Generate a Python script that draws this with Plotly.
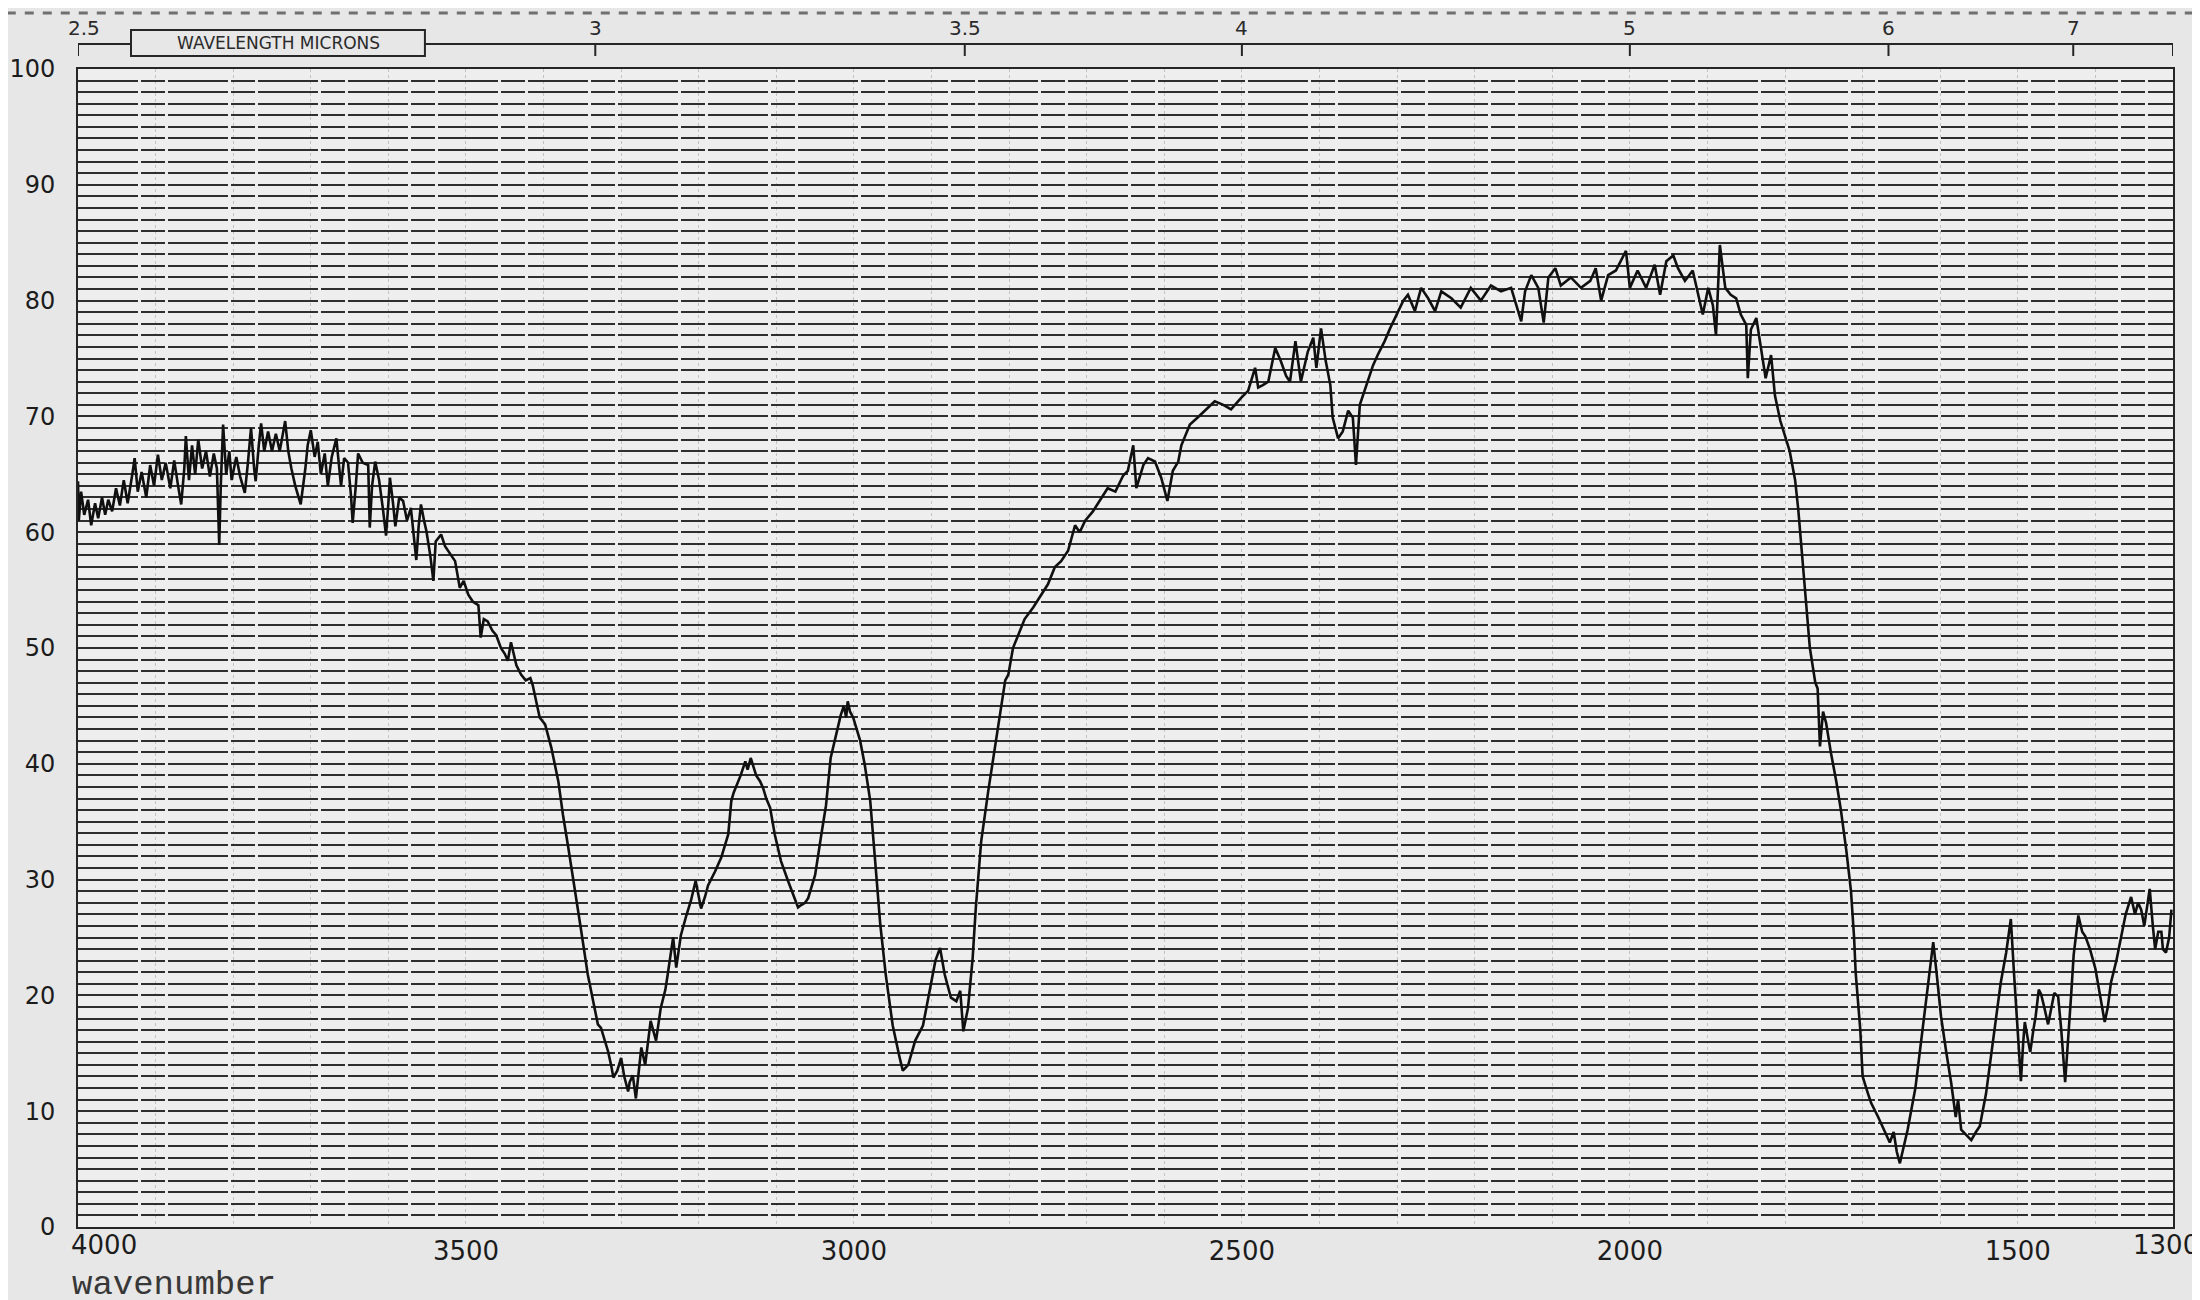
import plotly.graph_objects as go

# ---------------- data ----------------
# (wavenumber cm-1, transmittance %)
REGION_OH_BAND = [
    (4000, 64.4), (3999, 61.0), (3996, 63.5), (3992, 61.5), (3987, 62.8), (3983, 60.6), (3978, 62.5),
    (3974, 61.2), (3969, 63.0), (3965, 61.5), (3961, 62.8), (3956, 61.8), (3951, 63.8), (3946, 62.3),
    (3941, 64.5), (3936, 62.5), (3930, 65.0), (3927, 66.4), (3923, 63.5), (3918, 65.2), (3912, 63.0),
    (3907, 65.8), (3902, 64.0), (3897, 66.7), (3892, 64.5), (3887, 66.0), (3881, 63.8), (3876, 66.2),
    (3871, 64.0), (3867, 62.4), (3863, 65.5), (3861, 68.3), (3857, 64.5), (3853, 67.5), (3849, 65.0),
    (3845, 68.0), (3840, 65.5), (3835, 67.0), (3830, 64.8), (3825, 66.8), (3821, 65.5), (3818, 58.9),
    (3816, 64.0), (3813, 69.3), (3809, 65.0), (3805, 67.0), (3802, 64.5), (3796, 66.5), (3791, 64.8),
    (3785, 63.4), (3781, 66.0), (3777, 69.0), (3773, 65.5), (3771, 64.4), (3767, 67.5), (3764, 69.4),
    (3760, 67.0), (3755, 68.7), (3750, 67.0), (3745, 68.5), (3740, 67.0), (3733, 69.6), (3729, 67.0),
    (3725, 65.5), (3720, 64.0), (3716, 63.0), (3713, 62.4), (3707, 65.5), (3704, 67.5), (3700, 68.8),
    (3695, 66.5), (3691, 67.8), (3687, 65.0), (3682, 66.8), (3678, 64.0), (3673, 66.5), (3667, 68.1),
    (3664, 66.0), (3661, 64.0), (3657, 66.4), (3652, 66.0), (3648, 63.0), (3646, 60.8), (3642, 64.0),
    (3639, 66.8), (3633, 66.0), (3626, 65.8), (3624, 60.4), (3621, 64.0), (3617, 66.1), (3612, 64.5),
    (3607, 62.0), (3603, 59.7), (3600, 62.5), (3598, 64.7), (3594, 62.5), (3591, 60.5), (3586, 63.0),
    (3581, 62.7), (3576, 61.0), (3571, 62.1), (3567, 59.5), (3564, 57.6), (3561, 60.5), (3558, 62.4),
    (3554, 61.0), (3551, 60.1), (3546, 58.0), (3542, 55.8), (3539, 59.2), (3532, 59.8), (3527, 58.8),
    (3523, 58.4), (3518, 57.8), (3514, 57.5), (3508, 55.2), (3503, 55.8), (3497, 54.6), (3491, 54.0),
    (3484, 53.7), (3481, 50.9), (3477, 52.5), (3472, 52.3), (3466, 51.5), (3461, 51.1), (3455, 50.0),
    (3450, 49.5), (3446, 48.9), (3442, 50.5), (3435, 48.5), (3429, 47.7), (3423, 47.2), (3417, 47.4),
    (3414, 46.8), (3410, 45.5), (3405, 44.0), (3398, 43.4), (3390, 41.4),
]

REGION_CH_BANDS = [
    (3381, 38.5), (3375, 35.6), (3368, 32.7), (3359, 29.0), (3352, 25.8), (3343, 21.8), (3334, 18.9),
    (3330, 17.5), (3326, 17.2), (3321, 16.0), (3317, 15.2), (3313, 14.0), (3310, 12.9), (3305, 13.5),
    (3300, 14.6), (3296, 13.0), (3291, 11.7), (3289, 12.5), (3285, 13.1), (3281, 11.1), (3277, 13.5),
    (3274, 15.5), (3269, 14.0), (3265, 16.5), (3262, 17.8), (3258, 16.8), (3255, 16.1), (3249, 18.9),
    (3243, 20.5), (3240, 21.8), (3233, 25.0), (3229, 22.4), (3223, 25.2), (3216, 26.9), (3210, 28.2),
    (3204, 29.9), (3197, 27.5), (3192, 28.5), (3188, 29.5), (3179, 30.7), (3171, 31.9), (3162, 33.9),
    (3158, 36.8), (3155, 37.5), (3149, 38.5), (3146, 39.0), (3140, 40.2), (3137, 39.5), (3133, 40.5),
    (3126, 39.0), (3121, 38.5), (3117, 37.9), (3113, 37.0), (3108, 36.2), (3102, 33.9), (3094, 31.6),
    (3085, 29.9), (3076, 28.4), (3072, 27.6), (3068, 27.8), (3063, 28.0), (3059, 28.4), (3050, 30.4),
    (3042, 33.9), (3036, 36.4), (3030, 40.5), (3023, 42.5), (3017, 44.2), (3013, 45.0), (3010, 44.0),
    (3008, 45.4), (3005, 44.5), (3001, 44.0), (2992, 42.0), (2986, 39.9), (2979, 36.8), (2973, 31.9),
    (2966, 26.1), (2959, 21.8), (2950, 17.4), (2941, 14.6), (2937, 13.5), (2930, 14.0), (2921, 16.1),
    (2911, 17.4), (2902, 20.4), (2895, 23.0), (2889, 24.1), (2883, 21.8), (2875, 19.8), (2868, 19.5),
    (2863, 20.4), (2859, 16.9), (2853, 18.9), (2847, 23.2), (2843, 27.5), (2836, 33.3), (2827, 37.6),
    (2818, 41.4), (2812, 44.0), (2805, 47.2), (2801, 47.7),
]

REGION_RISE = [
    (2795, 50.0), (2789, 51.0), (2780, 52.5), (2769, 53.5), (2760, 54.5), (2750, 55.5), (2741, 57.0),
    (2733, 57.5), (2724, 58.4), (2715, 60.6), (2709, 60.0), (2702, 61.0), (2692, 61.8), (2683, 62.7),
    (2673, 63.8), (2663, 63.5), (2653, 64.9), (2647, 65.3), (2640, 67.5), (2636, 63.8), (2627, 65.8),
    (2621, 66.4), (2612, 66.1), (2604, 64.7), (2596, 62.7), (2589, 65.3), (2582, 66.1), (2578, 67.5),
    (2567, 69.3), (2557, 69.9), (2544, 70.7), (2535, 71.3), (2524, 71.0), (2514, 70.6), (2501, 71.6),
    (2492, 72.2), (2483, 74.2), (2479, 72.5), (2473, 72.7), (2466, 73.0), (2457, 75.9), (2450, 74.8),
    (2443, 73.5), (2438, 73.0), (2431, 76.5), (2424, 73.0), (2415, 75.6), (2408, 76.8), (2404, 74.2),
    (2398, 77.6), (2392, 74.8), (2386, 72.7), (2383, 69.9), (2376, 68.1), (2370, 68.7), (2363, 70.5),
    (2357, 69.9), (2353, 65.8), (2348, 71.0), (2340, 72.7), (2331, 74.4), (2325, 75.3), (2316, 76.5),
    (2309, 77.6), (2301, 78.8), (2292, 80.0), (2286, 80.5), (2279, 79.4),
]

REGION_PLATEAU = [
    (2277, 79.1), (2269, 81.1), (2260, 80.2), (2251, 79.1), (2243, 80.8), (2230, 80.2), (2218, 79.4),
    (2205, 81.1), (2192, 80.0), (2179, 81.3), (2166, 80.8), (2153, 81.1), (2140, 78.2), (2135, 80.8),
    (2127, 82.2), (2118, 81.1), (2111, 78.1), (2105, 82.0), (2096, 82.8), (2089, 81.3), (2076, 82.0),
    (2063, 81.1), (2051, 81.7), (2044, 82.8), (2037, 80.0), (2028, 82.2), (2018, 82.6), (2005, 84.3),
    (2000, 81.1), (1990, 82.6), (1979, 81.1), (1968, 83.1), (1961, 80.5), (1953, 83.4), (1944, 83.9),
    (1938, 82.8), (1929, 81.7), (1919, 82.6), (1912, 80.5), (1906, 78.8), (1899, 81.1), (1893, 79.6),
    (1889, 77.0), (1884, 84.8), (1877, 81.1), (1870, 80.5), (1863, 80.2), (1857, 78.8), (1850, 77.9),
    (1848, 73.3), (1844, 77.5), (1837, 78.5), (1831, 75.9), (1825, 73.3), (1818, 75.3), (1813, 71.8),
    (1806, 69.6), (1800, 68.4),
]

REGION_FINGERPRINT = [
    (1794, 67.0), (1787, 64.5), (1783, 62.0), (1778, 58.0), (1773, 54.0), (1768, 50.0), (1761, 47.0),
    (1758, 46.5), (1755, 41.5), (1751, 44.5), (1747, 43.5), (1741, 41.0), (1734, 38.5), (1728, 36.0),
    (1721, 32.5), (1715, 29.0), (1711, 25.0), (1709, 22.0), (1703, 17.0), (1700, 13.0), (1693, 11.5),
    (1689, 10.7), (1680, 9.5), (1671, 8.1), (1665, 7.3), (1660, 8.2), (1656, 6.5), (1652, 5.5),
    (1647, 7.0), (1642, 8.4), (1632, 12.0), (1625, 15.9), (1617, 20.5), (1609, 24.6), (1604, 21.5),
    (1599, 18.2), (1592, 15.0), (1586, 12.5), (1580, 9.5), (1577, 11.0), (1573, 8.4), (1567, 8.0),
    (1560, 7.5), (1554, 8.2), (1549, 8.7), (1541, 11.5), (1535, 14.5), (1528, 18.0), (1522, 21.1),
    (1515, 23.7), (1509, 26.6), (1505, 22.0), (1502, 18.8), (1498, 15.0), (1496, 12.6), (1493, 16.0),
    (1491, 17.7), (1487, 16.2), (1484, 15.1), (1480, 17.0), (1477, 18.2), (1473, 20.5), (1470, 20.1),
    (1466, 19.0), (1461, 17.5), (1458, 18.5), (1453, 20.2), (1448, 19.9), (1444, 17.0), (1439, 12.5),
    (1435, 16.0), (1431, 20.3), (1428, 23.5), (1422, 26.9), (1417, 25.5), (1413, 25.1), (1407, 24.0),
    (1400, 22.3), (1394, 20.0), (1388, 17.7), (1384, 19.0), (1380, 21.1), (1373, 23.0), (1367, 25.1),
    (1361, 27.0), (1354, 28.5), (1349, 27.0), (1345, 28.0), (1341, 27.4), (1337, 26.0), (1333, 28.0),
    (1330, 29.2), (1326, 26.0), (1323, 24.0), (1319, 25.5), (1315, 25.5), (1313, 24.0), (1309, 23.7),
    (1305, 25.0), (1302, 27.4),
]

X_TICK_VALUES = [3500, 3000, 2500, 2000, 1500]
X_TICK_LABELS = ["3500", "3000", "2500", "2000", "1500"]
Y_TICK_VALUES = [0, 10, 20, 30, 40, 50, 60, 70, 80, 90, 100]
WAVELENGTH_TICKS = [2.5, 3, 3.5, 4, 5, 6, 7]
WAVELENGTH_LABELS = ["2.5", "3", "3.5", "4", "5", "6", "7"]

# ---------------- figure ----------------
points = REGION_OH_BAND + REGION_CH_BANDS + REGION_RISE + REGION_PLATEAU + REGION_FINGERPRINT
wn = [p[0] for p in points]
tr = [p[1] for p in points]

PAPER = "#e7e7e7"
INK = "#1c1c1c"

fig = go.Figure()
fig.add_trace(go.Scatter(x=wn, y=tr, mode="lines",
                         line=dict(color="#101010", width=2.6),
                         hoverinfo="skip", showlegend=False))

grid_x = list(range(4000, 1299, -100))
grid_x_text = [X_TICK_LABELS[X_TICK_VALUES.index(v)] if v in X_TICK_VALUES else "" for v in grid_x]
grid_y = list(range(0, 101))
grid_y_text = [str(v) if v in Y_TICK_VALUES else "" for v in grid_y]

fig.update_layout(
    width=2200, height=1300,
    margin=dict(l=70, r=35, t=61, b=81, pad=0),
    paper_bgcolor=PAPER, plot_bgcolor="#eeeeee",
    showlegend=False,
    font=dict(family="DejaVu Sans", color=INK),
    xaxis=dict(range=[4000, 1300], tickmode="array", tickvals=grid_x, ticktext=grid_x_text,
               showgrid=True, gridcolor="#c2c2c2", gridwidth=1, griddash="dot",
               showline=True, linecolor="#262626", linewidth=2, mirror=True,
               ticks="", tickfont=dict(size=26, color=INK), zeroline=False, automargin=False),
    yaxis=dict(range=[0, 100], tickmode="array", tickvals=grid_y, ticktext=grid_y_text,
               showgrid=True, gridcolor="#2e2e2e", gridwidth=2, griddash="60px,3px,24px,3px",
               showline=True, linecolor="#262626", linewidth=2, mirror=True,
               ticks="outside", ticklen=16, tickcolor="rgba(0,0,0,0)",
               tickfont=dict(size=24, color=INK), zeroline=False, automargin=False),
)

# top wavelength scale (drawn with shapes in data-x / paper-y coordinates)
TOP_LINE_Y = 1.0216
shapes = [
    dict(type="line", xref="paper", yref="paper", x0=-0.034, x1=1.017, y0=1.0484, y1=1.0484,
         line=dict(color="#707070", width=3, dash="dash")),
    dict(type="line", xref="x", yref="paper", x0=4000, x1=1300, y0=TOP_LINE_Y, y1=TOP_LINE_Y,
         line=dict(color="#262626", width=2)),
    dict(type="line", xref="x", yref="paper", x0=1300, x1=1300, y0=TOP_LINE_Y, y1=1.0112,
         line=dict(color="#262626", width=2)),
]
annotations = []
for lam, lab in zip(WAVELENGTH_TICKS, WAVELENGTH_LABELS):
    xv = 10000.0 / lam
    shapes.append(dict(type="line", xref="x", yref="paper", x0=xv, x1=xv, y0=TOP_LINE_Y, y1=1.0112,
                       line=dict(color="#262626", width=2)))
    annotations.append(dict(x=xv, y=1.0354, xref="x", yref="paper", text=lab, showarrow=False,
                            xanchor="center", yanchor="middle", xshift=6 if lam == 2.5 else 0,
                            font=dict(size=20, color="#2a2a2a")))
shapes.append(dict(type="rect", xref="paper", yref="paper", x0=0.0253, x1=0.1656, y0=1.0112, y1=1.0337,
                   fillcolor=PAPER, line=dict(color="#262626", width=2)))
annotations.append(dict(x=0.0955, y=1.0225, xref="paper", yref="paper", text="WAVELENGTH MICRONS",
                        showarrow=False, xanchor="center", yanchor="middle",
                        font=dict(size=17, color="#2a2a2a")))
annotations.append(dict(x=4000, y=0, xref="x", yref="paper", text="4000", showarrow=False,
                        xanchor="left", yanchor="top", xshift=-8, yshift=-2, borderpad=0,
                        font=dict(size=26, color=INK)))
annotations.append(dict(x=1300, y=0, xref="x", yref="paper", text="1300", showarrow=False,
                        xanchor="right", yanchor="top", xshift=27, yshift=-2, borderpad=0,
                        font=dict(size=26, color=INK)))
annotations.append(dict(x=-0.0033, y=-0.0675, xref="paper", yref="paper", text="wavenumber",
                        showarrow=False, xanchor="left", yanchor="bottom", borderpad=0,
                        font=dict(family="Liberation Mono", size=34, color="#383838")))

fig.update_layout(shapes=shapes, annotations=annotations)
fig.write_html("out.html")
